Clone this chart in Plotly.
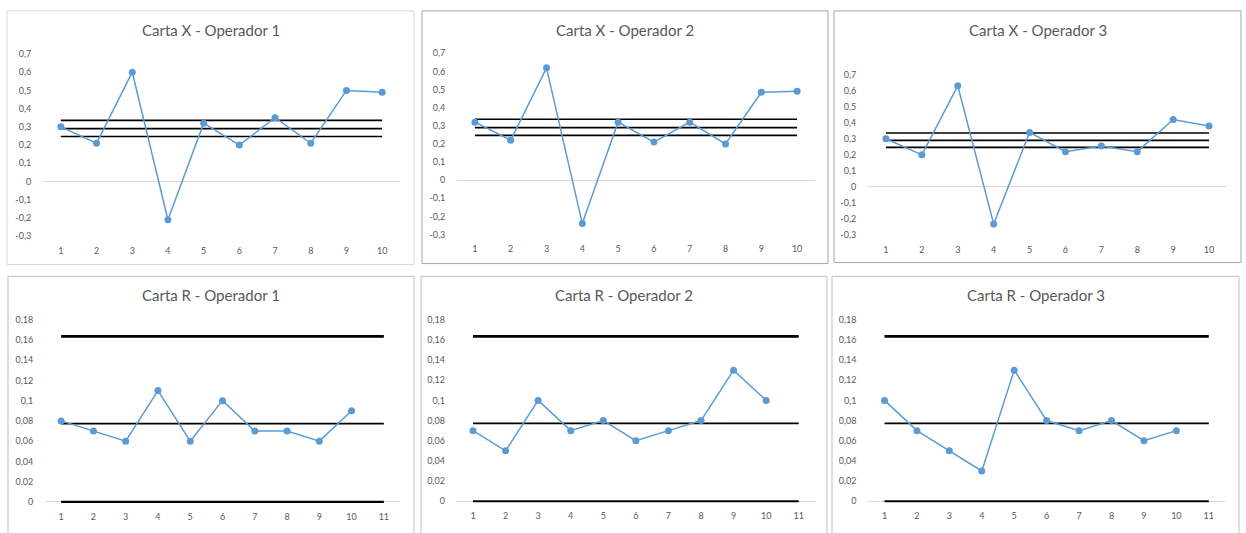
import plotly.graph_objects as go

W, H = 1246, 533

# --- data -------------------------------------------------------------
muestras = [1, 2, 3, 4, 5, 6, 7, 8, 9, 10]
muestras_r = [1, 2, 3, 4, 5, 6, 7, 8, 9, 10, 11]

x_op1 = [0.30, 0.21, 0.60, -0.21, 0.32, 0.20, 0.35, 0.21, 0.50, 0.49]
x_op2 = [0.32, 0.22, 0.62, -0.24, 0.32, 0.21, 0.32, 0.20, 0.485, 0.49]
x_op3 = [0.30, 0.20, 0.63, -0.23, 0.34, 0.22, 0.255, 0.22, 0.42, 0.38]

r_op1 = [0.08, 0.07, 0.06, 0.11, 0.06, 0.10, 0.07, 0.07, 0.06, 0.09]
r_op2 = [0.07, 0.05, 0.10, 0.07, 0.08, 0.06, 0.07, 0.08, 0.13, 0.10]
r_op3 = [0.10, 0.07, 0.05, 0.03, 0.13, 0.08, 0.07, 0.08, 0.06, 0.07]

# control limits
x_lcs, x_lc, x_lci = 0.336, 0.290, 0.247
r_lcs, r_lc, r_lci = 0.1635, 0.0773, 0.0

x_ticks = [-0.3, -0.2, -0.1, 0, 0.1, 0.2, 0.3, 0.4, 0.5, 0.6, 0.7]
x_ticktext = ["-0,3", "-0,2", "-0,1", "0", "0,1", "0,2", "0,3", "0,4", "0,5", "0,6", "0,7"]
r_ticks = [0, 0.02, 0.04, 0.06, 0.08, 0.10, 0.12, 0.14, 0.16, 0.18]
r_ticktext = ["0", "0,02", "0,04", "0,06", "0,08", "0,1", "0,12", "0,14", "0,16", "0,18"]

titles = ["Carta X - Operador 1", "Carta X - Operador 2", "Carta X - Operador 3",
          "Carta R - Operador 1", "Carta R - Operador 2", "Carta R - Operador 3"]

# --- layout geometry (pixels) -----------------------------------------
# panel frames: x0, x1, y0, y1, border colour
frames = [
    (7, 414, 5, 264, "#d9d9d9"),
    (422, 828, 5, 263, "#a6a6a6"),
    (834, 1241, 5, 262, "#a6a6a6"),
    (8, 414, 276, 545, "#bfbfbf"),
    (421, 827, 276, 545, "#bfbfbf"),
    (832, 1239, 276, 545, "#bfbfbf"),
]
# plot areas: x0, x1, ytop, ybottom
areas = [
    (43, 400, 49, 235),
    (457, 815, 48.3, 233.3),
    (868, 1227, 70, 234),
    (45, 400, 320.3, 506.3),
    (456.7, 815, 320.3, 505.7),
    (868.3, 1225, 320.3, 505.7),
]
title_y = [25, 25, 24, 295, 295, 295]

# small headroom below zero on the R charts so the zero limit line is not clipped
R_PAD_PX = 3

BLUE = "#5B9BD5"
TXT = "#595959"
FONT = "Lato, 'Open Sans', sans-serif"

fig = go.Figure()
layout = dict(
    width=W, height=H, margin=dict(l=0, r=0, t=0, b=0),
    paper_bgcolor="white", plot_bgcolor="white", showlegend=False,
    shapes=[], annotations=[],
)

series_x = [x_op1, x_op2, x_op3]
series_r = [r_op1, r_op2, r_op3]

for i in range(6):
    n = i + 1
    xa = "x" if n == 1 else f"x{n}"
    ya = "y" if n == 1 else f"y{n}"
    x0, x1, yt, yb = areas[i]
    is_x = i < 3

    if is_x:
        cats = muestras
        vals = series_x[i]
        limits = [(x_lcs, 1.7), (x_lc, 1.7), (x_lci, 1.7)]
        yrange = [-0.3, 0.7]
        ybottom = yb
    else:
        cats = muestras_r
        vals = series_r[i - 3]
        limits = [(r_lcs, 2.8), (r_lc, 1.7), (r_lci, 2.2)]
        per_px = 0.18 / (yb - yt)
        yrange = [-R_PAD_PX * per_px, 0.18]
        ybottom = yb + R_PAD_PX

    for lim, lw in limits:
        fig.add_trace(go.Scatter(
            x=cats, y=[lim] * len(cats), xaxis=xa, yaxis=ya, mode="lines",
            line=dict(color="black", width=lw), hoverinfo="skip"))

    fig.add_trace(go.Scatter(
        x=muestras, y=vals, xaxis=xa, yaxis=ya, mode="lines+markers",
        line=dict(color=BLUE, width=1.5),
        marker=dict(color=BLUE, size=7, line=dict(width=0))))

    xkey = "xaxis" if n == 1 else f"xaxis{n}"
    ykey = "yaxis" if n == 1 else f"yaxis{n}"
    layout[xkey] = dict(
        domain=[x0 / W, x1 / W], anchor=ya,
        range=[0.5, len(cats) + 0.5], tickvals=cats, ticktext=[str(c) for c in cats],
        showgrid=False, zeroline=False, showline=False,
        ticks="outside", ticklen=6 if is_x else 3, tickcolor="rgba(0,0,0,0)",
        tickfont=dict(family=FONT, size=9, color=TXT), fixedrange=True,
    )
    layout[ykey] = dict(
        domain=[1 - ybottom / H, 1 - yt / H], anchor=xa,
        range=yrange,
        tickvals=x_ticks if is_x else r_ticks,
        ticktext=x_ticktext if is_x else r_ticktext,
        showgrid=False, showline=False,
        zeroline=True, zerolinecolor="#d9d9d9", zerolinewidth=1,
        ticks="outside", ticklen=9, tickcolor="rgba(0,0,0,0)",
        tickfont=dict(family=FONT, size=9, color=TXT), fixedrange=True,
    )

    fx0, fx1, fy0, fy1, col = frames[i]
    layout["shapes"].append(dict(
        type="rect", xref="paper", yref="paper",
        x0=fx0 / W, x1=fx1 / W, y0=1 - fy1 / H, y1=1 - fy0 / H,
        line=dict(color=col, width=1), fillcolor="rgba(0,0,0,0)", layer="below"))

    layout["annotations"].append(dict(
        text=titles[i], xref="paper", yref="paper",
        x=(fx0 + fx1) / 2 / W, y=1 - title_y[i] / H,
        xanchor="center", yanchor="middle", showarrow=False,
        font=dict(family=FONT, size=15, color=TXT)))

fig.update_layout(**layout)
fig.write_html("out.html")
